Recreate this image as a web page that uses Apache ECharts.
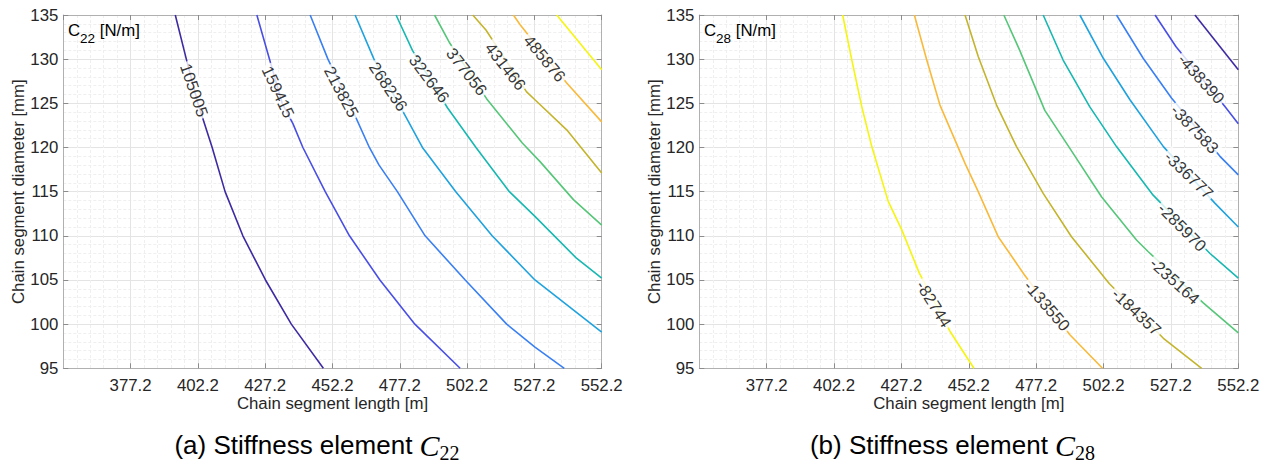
<!DOCTYPE html>
<html>
<head>
<meta charset="utf-8">
<script src="https://cdn.jsdelivr.net/npm/echarts@6/dist/echarts.min.js"></script>
<style>
html,body{margin:0;padding:0;background:#fff;}
#c{width:1270px;height:464px;}
</style>
</head>
<body>
<div id="c"></div>
<script>
// ---------- axes ----------
const xMin = 352.2, xMax = 552.2, xStep = 25;
const yMin = 95, yMax = 135, yStep = 5;

// ---------- C22 contour levels and lines [length m, diameter mm] ----------
const c22Levels = [105005, 159415, 213825, 268236, 322646, 377056, 431466, 485876, 540286];
const c22Line1 = [[393.8,135],[397.9,130],[402.2,125],[407.5,120],[412.3,115],[418.9,110],[427.3,105],[436.9,100],[448.8,95]];
const c22Line2 = [[424.1,135],[428.8,130],[433.5,125],[437.5,122.7],[441.2,120],[449.5,115],[458.5,110],[469.8,105],[482.8,100],[499.6,95]];
const c22Line3 = [[443.9,135],[450.5,130],[458.5,125],[465.9,120],[469.5,118],[476.3,115],[486.6,110],[501.5,105],[516.9,100],[527.4,97.4],[538.3,95]];
const c22Line4 = [[460.6,135],[467.6,130],[479.2,123.6],[485.6,120],[498.0,115],[511.5,110],[527.4,105],[552.2,99.1]];
const c22Line5 = [[475.8,135],[481.9,131],[494.9,124.5],[505.5,120],[517.9,115],[527.4,112.2],[542.7,107.5],[552.2,105.2]];
const c22Line6 = [[490.1,135],[495.8,131.8],[509.5,125.5],[522.7,120.5],[529.3,118.4],[541.7,114.1],[552.2,111.2]];
const c22Line7 = [[504.3,135],[509.2,133.3],[524.3,126.3],[527.4,125.4],[539.2,122.0],[552.2,117.1]];
const c22Line8 = [[519.4,135],[521.9,133.9],[539.2,127.3],[552.2,122.9]];
const c22Line9 = [[535.5,135],[552.2,128.8]];
// label anchor points (on the lines) for the first 8 levels
const c22LabelPos = [[400.9,126.5],[432.1,126.3],[455.6,126.3],[473.0,126.9],[488.2,127.8],[502.1,128.6],[516.5,129.2],[531.1,130.1]];

// ---------- C28 contour levels and lines ----------
const c28Levels = [-489197, -438390, -387583, -336777, -285970, -235164, -184357, -133550, -82744];
const c28Line1 = [[536.1,135],[552.2,128.8]];
const c28Line2 = [[521.3,135],[529.1,131.4],[547.3,124.6],[552.2,122.7]];
const c28Line3 = [[507.0,135],[516.9,130.1],[527.4,125.6],[545.4,119.0],[552.2,116.9]];
const c28Line4 = [[493.4,135],[502.1,130.1],[512.0,125.4],[524.4,120.1],[543.5,113.7],[552.2,111.0]];
const c28Line5 = [[479.8,135],[487.2,129.9],[497.1,124.6],[507.0,120.1],[520.6,114.6],[541.7,108.0],[552.2,105.2]];
const c28Line6 = [[465.2,135],[471.1,131.0],[480.4,124.2],[489.7,119.9],[501.5,114.4],[514.5,109.5],[518.8,108.2],[539.2,102.4],[552.2,99.0]];
const c28Line7 = [[450.8,135],[455.7,130.3],[462.5,124.8],[469.9,120.1],[479.8,114.8],[490.3,109.9],[504.3,104.6],[524.4,98.4],[538.6,95]];
const c28Line8 = [[432.0,135],[436.6,129.9],[441.5,124.8],[450.8,118.2],[455.7,115],[463.1,109.9],[472.8,105.6],[489.7,98.8],[501.8,95]];
const c28Line9 = [[405.4,135],[408.8,129.9],[412.5,124.6],[416.2,120.1],[422.3,113.9],[427.3,110.7],[433.8,105.8],[445.2,99.2],[454.1,95]];
// label anchor points for levels 2..9
const c28LabelPos = [[538.5,127.8],[536.1,122.1],[533.9,116.9],[531.4,111.0],[528.7,104.9],[514.5,101.4],[481.3,102.1],[439.3,102.3]];

// ---------- styles ----------
const lineColors = ['#3e2ba3','#4a4fe4','#3a80f2','#1fa2de','#17b8b2','#56c679','#c4b42c','#f9b93a','#f5f50f'];
const c22LabelAngle = [-71,-65,-62,-56,-53,-52,-52,-50];
const c28LabelAngle = [-48,-46,-44,-45,-42,-43,-49,-58];
const FONT = '"Liberation Sans", Arial, Helvetica, sans-serif';
const TXT = '#262626';

const c22Lines = [c22Line1,c22Line2,c22Line3,c22Line4,c22Line5,c22Line6,c22Line7,c22Line8,c22Line9];
const c28Lines = [c28Line1,c28Line2,c28Line3,c28Line4,c28Line5,c28Line6,c28Line7,c28Line8,c28Line9];

function xBottom(g) {
  return {
    gridIndex: g, type: 'value', min: xMin, max: xMax, interval: xStep, position: 'bottom',
    name: 'Chain segment length [m]', nameLocation: 'middle', nameGap: 27, nameMoveOverlap: false,
    nameTextStyle: {fontFamily: FONT, fontSize: 16.8, color: TXT},
    axisLine: {show: true, onZero: false, lineStyle: {color: '#b0b0b0', width: 1}},
    axisTick: {show: true, inside: true, length: 5, lineStyle: {color: '#8c8c8c'}},
    minorTick: {show: false, splitNumber: 5},
    axisLabel: {show: true, showMinLabel: false, showMaxLabel: true, margin: 9, fontFamily: FONT, fontSize: 16.8, color: TXT,
      hideOverlap: false, formatter: v => v.toFixed(1)},
    splitLine: {show: true, lineStyle: {color: '#e4e4e4', width: 1}},
    minorSplitLine: {show: true, lineStyle: {color: '#efefef', width: 1, type: [3, 2]}}
  };
}
function xTop(g) {
  return {
    gridIndex: g, type: 'value', min: xMin, max: xMax, interval: xStep, position: 'top',
    axisLine: {show: true, onZero: false, lineStyle: {color: '#b0b0b0', width: 1}},
    axisTick: {show: true, inside: true, length: 5, lineStyle: {color: '#8c8c8c'}},
    axisLabel: {show: false}, splitLine: {show: false}
  };
}
function yLeft(g) {
  return {
    gridIndex: g, type: 'value', min: yMin, max: yMax, interval: yStep, position: 'left',
    name: 'Chain segment diameter [mm]', nameLocation: 'middle', nameGap: 36, nameRotate: 90, nameMoveOverlap: false,
    nameTextStyle: {fontFamily: FONT, fontSize: 16.8, color: TXT},
    axisLine: {show: true, onZero: false, lineStyle: {color: '#b0b0b0', width: 1}},
    axisTick: {show: true, inside: true, length: 5, lineStyle: {color: '#8c8c8c'}},
    minorTick: {show: false, splitNumber: 5},
    axisLabel: {show: true, margin: 5, fontFamily: FONT, fontSize: 16.8, color: TXT, hideOverlap: false},
    splitLine: {show: true, lineStyle: {color: '#e4e4e4', width: 1}},
    minorSplitLine: {show: true, lineStyle: {color: '#efefef', width: 1, type: [3, 2]}}
  };
}
function yRight(g) {
  return {
    gridIndex: g, type: 'value', min: yMin, max: yMax, interval: yStep, position: 'right',
    axisLine: {show: true, onZero: false, lineStyle: {color: '#b0b0b0', width: 1}},
    axisTick: {show: true, inside: true, length: 5, lineStyle: {color: '#8c8c8c'}},
    axisLabel: {show: false}, splitLine: {show: false}
  };
}

const series = [];
function addContours(g, lines, levels, labelPos, labelAngle, labelOffset) {
  lines.forEach((pts, i) => {
    series.push({
      type: 'line', xAxisIndex: g, yAxisIndex: g, data: pts, showSymbol: false, symbol: 'none',
      silent: true, animation: false, z: 3,
      lineStyle: {color: lineColors[i], width: 1.6}
    });
  });
  series.push({
    type: 'scatter', xAxisIndex: g, yAxisIndex: g, symbolSize: 1, silent: true, animation: false, z: 6,
    itemStyle: {color: 'rgba(0,0,0,0)'},
    data: labelPos.map((p, k) => ({
      value: p, name: String(levels[k + labelOffset]),
      label: {rotate: labelAngle[k]}
    })),
    label: {
      show: true, position: 'inside', formatter: p => p.name,
      fontFamily: FONT, fontSize: 16.5, color: '#000',
      backgroundColor: '#fff', padding: [0, 2]
    }
  });
}
addContours(0, c22Lines, c22Levels, c22LabelPos, c22LabelAngle, 0);
addContours(1, c28Lines, c28Levels, c28LabelPos, c28LabelAngle, 1);

const chart = echarts.init(document.getElementById('c'), null, {renderer: 'svg', width: 1270, height: 464});
chart.setOption({
  animation: false,
  backgroundColor: '#fff',
  grid: [
    {left: 63.3, top: 15, width: 538.4, height: 353.3, containLabel: false, outerBoundsMode: 'none'},
    {left: 699.3, top: 15, width: 539, height: 353.3, containLabel: false, outerBoundsMode: 'none'}
  ],
  xAxis: [xBottom(0), xBottom(1), xTop(0), xTop(1)],
  yAxis: [yLeft(0), yLeft(1), yRight(0), yRight(1)],
  series: series,
  graphic: [
    {type: 'text', x: 68, y: 30, z: 10, style: {
      text: '{m|C}{s|22}{m| [N/m]}', align: 'left', verticalAlign: 'middle',
      rich: {m: {fontFamily: FONT, fontSize: 16.8, fill: '#000'}, s: {fontFamily: FONT, fontSize: 13.5, fill: '#000', padding: [16, 0, 0, 0]}}
    }},
    {type: 'text', x: 704, y: 30, z: 10, style: {
      text: '{m|C}{s|28}{m| [N/m]}', align: 'left', verticalAlign: 'middle',
      rich: {m: {fontFamily: FONT, fontSize: 16.8, fill: '#000'}, s: {fontFamily: FONT, fontSize: 13.5, fill: '#000', padding: [16, 0, 0, 0]}}
    }},
    {type: 'text', x: 317, y: 445, z: 10, style: {
      text: '{m|(a) Stiffness element }{c|C}{s|22}', align: 'center', verticalAlign: 'middle',
      rich: {m: {fontFamily: FONT, fontSize: 26, fill: '#000'},
             c: {fontFamily: '"Liberation Serif", serif', fontStyle: 'italic', fontSize: 30, fill: '#000'},
             s: {fontFamily: '"Liberation Serif", serif', fontSize: 20, fill: '#000', padding: [15, 0, 0, 0]}}
    }},
    {type: 'text', x: 952.5, y: 445, z: 10, style: {
      text: '{m|(b) Stiffness element }{c|C}{s|28}', align: 'center', verticalAlign: 'middle',
      rich: {m: {fontFamily: FONT, fontSize: 26, fill: '#000'},
             c: {fontFamily: '"Liberation Serif", serif', fontStyle: 'italic', fontSize: 30, fill: '#000'},
             s: {fontFamily: '"Liberation Serif", serif', fontSize: 20, fill: '#000', padding: [15, 0, 0, 0]}}
    }}
  ]
});
</script>
</body>
</html>
